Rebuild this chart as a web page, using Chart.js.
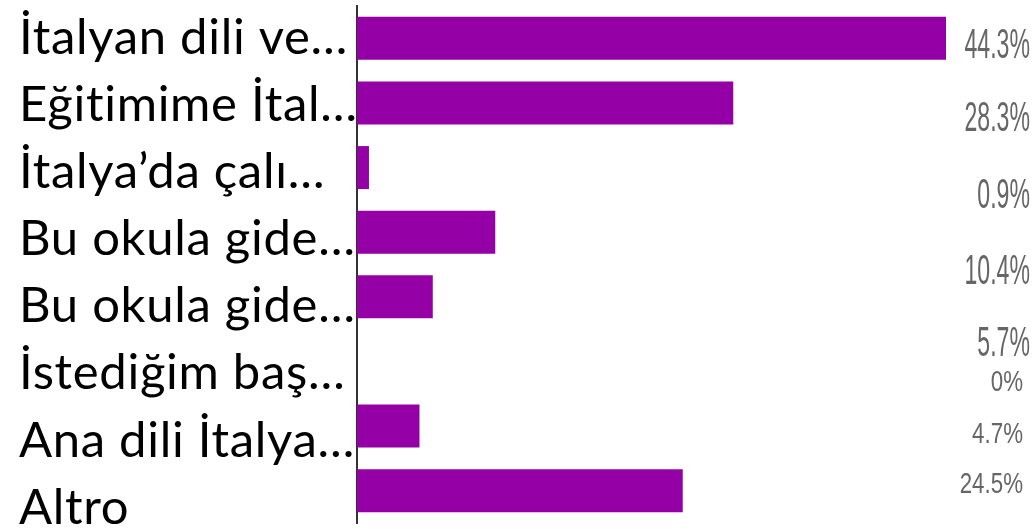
<!DOCTYPE html>
<html>
<head>
<meta charset="utf-8">
<script src="https://cdn.jsdelivr.net/npm/chart.js@4.4.1/dist/chart.umd.min.js"></script>
<style>
  html, body { margin: 0; padding: 0; background: #fff; }
  #wrap { width: 1036px; height: 529px; position: relative; }
</style>
</head>
<body>
<div id="wrap"><canvas id="chart"></canvas></div>
<script>
/* ============================================================
   DATA
============================================================ */
const categories = [
  "İtalyan dili ve…",
  "Eğitimime İtal…",
  "İtalya’da çalı…",
  "Bu okula gide…",
  "Bu okula gide…",
  "İstediğim baş…",
  "Ana dili İtalya…",
  "Altro",
];
const percentages = [44.3, 28.3, 0.9, 10.4, 5.7, 0, 4.7, 24.5];

/* ============================================================
   LABEL LAYOUT (style only)
============================================================ */
const BAR_COLOR = "#9400a6";
// value labels: the first five are big, the last three smaller
const valueBig = [true, true, true, true, true, false, false, false];
// baseline shift of each value label from its bar centre
const valueShift = [19.5, 27.9, 40.3, 51.7, 59.1, 29.5, 16.9, 2.3];

const labelPlugin = {
  id: "labelPlugin",
  afterDraw(chart) {
    const { ctx } = chart;
    const yScale = chart.scales.y;

    // category labels
    ctx.save();
    ctx.fillStyle = "#000";
    ctx.font = "49px Lato, 'Open Sans', sans-serif";
    ctx.letterSpacing = "0.7px";
    ctx.textAlign = "left";
    ctx.textBaseline = "alphabetic";
    categories.forEach((c, i) => {
      const y = yScale.getPixelForValue(i) + 15.5 + 2.5 * i;
      ctx.fillText(c, 19, y);
    });
    ctx.restore();

    // value labels (condensed grey)
    percentages.forEach((v, i) => {
      const big = valueBig[i];
      const y = yScale.getPixelForValue(i) + valueShift[i];
      ctx.save();
      ctx.fillStyle = "#666";
      ctx.font = (big ? "42px" : "29px") + " 'Liberation Sans', Arial, sans-serif";
      ctx.textAlign = "right";
      ctx.textBaseline = "alphabetic";
      ctx.translate(big ? 1030 : 1023, y);
      ctx.scale(big ? 0.55 : 0.77, 1);
      ctx.fillText(`${v}%`, 0, 0);
      ctx.restore();
    });
  },
};

/* ============================================================
   CHART
============================================================ */
new Chart(document.getElementById("chart"), {
  type: "bar",
  data: {
    labels: categories,
    datasets: [
      {
        data: percentages,
        backgroundColor: BAR_COLOR,
        borderWidth: 0,
        categoryPercentage: 1,
        barPercentage: 0.665,
      },
    ],
  },
  options: {
    indexAxis: "y",
    responsive: true,
    maintainAspectRatio: false,
    animation: false,
    layout: { padding: { top: 6, bottom: 6, left: 0, right: 90 } },
    plugins: {
      legend: { display: false },
      tooltip: { enabled: false },
    },
    scales: {
      x: {
        display: false,
        min: 0,
        max: 44.3,
      },
      y: {
        ticks: { display: false },
        grid: { display: false },
        border: { display: true, color: "#333", width: 2 },
        afterFit: (scale) => {
          scale.width = 357;
        },
      },
    },
  },
  plugins: [labelPlugin],
});
</script>
</body>
</html>
